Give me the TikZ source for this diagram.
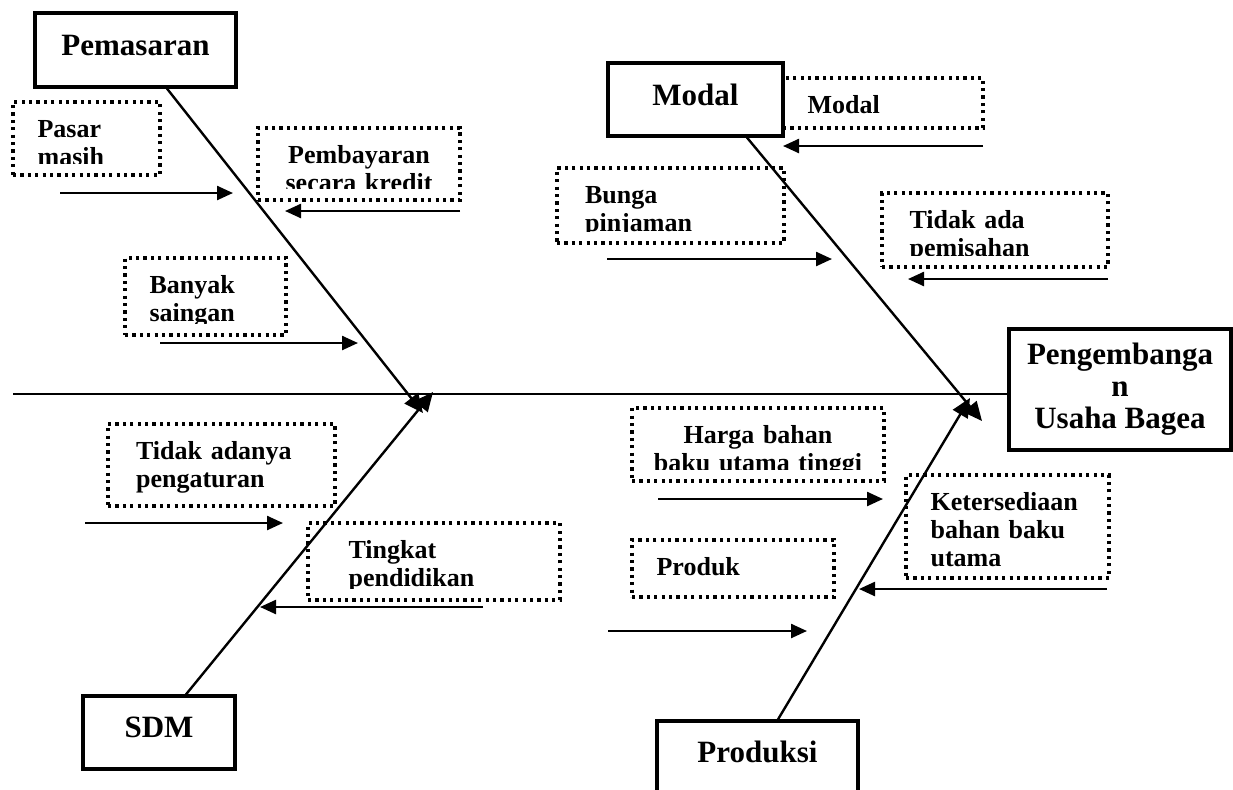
\documentclass[tikz,border=0pt]{standalone}
\usepackage{fontspec}
\setmainfont{Liberation Serif}
\usetikzlibrary{arrows.meta}

\tikzset{
  bone/.style={line width=1.2pt, -{Triangle[length=9.5pt, width=8.5pt]}},
  push/.style={line width=1.2pt, -{Triangle[length=8pt, width=7pt]}},
  category/.style={draw, line width=1.6pt, inner sep=0pt, text depth=5pt,
    font=\bfseries\fontsize{15.5}{16}\selectfont},
  effect/.style={draw, line width=1.6pt, inner sep=0pt, align=center,
    font=\bfseries\fontsize{15.5}{16}\selectfont},
  reason/.style={draw, line width=1.6pt, dash pattern=on 1.6pt off 2.1pt, inner sep=0pt,
    path picture={
      \clip ([yshift=6pt]path picture bounding box.south west) rectangle (path picture bounding box.north east);
      \node[anchor=base west, text width=110pt, align=left, inner sep=0pt,
        font=\bfseries\fontsize{13}{14}\selectfont]
        at ([shift={(11.5pt,-17.5pt)}]path picture bounding box.north west) {#1};}},
  reasonmid/.style={draw, line width=1.6pt, dash pattern=on 1.6pt off 2.1pt, inner sep=0pt,
    path picture={
      \clip ([yshift=6pt]path picture bounding box.south west) rectangle (path picture bounding box.north east);
      \node[anchor=base, text width=120pt, align=center, inner sep=0pt,
        font=\bfseries\fontsize{13}{14}\selectfont]
        at ([yshift=-17.5pt]path picture bounding box.north) {#1};}}
}

\begin{document}
\begin{tikzpicture}[x=0.5pt, y=-0.5pt]
  \useasboundingbox (0,0) rectangle (1233,789);

  % heads of the bones
  \node[category, minimum width=100.5pt, minimum height=37pt] (pemasaran) at (135.5,50) {Pemasaran};
  \node[category, minimum width=87.5pt, minimum height=36.5pt] (modal) at (695.5,99.5) {Modal};
  \node[category, minimum width=76pt, minimum height=36.5pt] (sdm) at (159,732.5) {SDM};
  \node[category, minimum width=100.5pt, minimum height=35.5pt] (produksi) at (757.5,756.5) {Produksi};
  \node[effect, minimum width=111pt, minimum height=60.5pt] (usaha) at (1120,389.5) {Pengembanga\\n\\Usaha Bagea};

  % causes
  \node[reason={Pasar\\masih}, minimum width=73.5pt, minimum height=36.5pt] (pasar) at (86.5,138.5) {};
  \node[reasonmid={Pembayaran\\secara kredit}, minimum width=101pt, minimum height=36pt] (kredit) at (359,164) {};
  \node[reason={Banyak\\saingan}, minimum width=80.5pt, minimum height=38.5pt] (saingan) at (205.5,296.5) {};
  \node[reason={Modal}, minimum width=100pt, minimum height=25pt] (dana) at (883,103) {};
  \node[reason={Bunga\\pinjaman}, minimum width=113.5pt, minimum height=37.5pt] (bunga) at (670.5,205.5) {};
  \node[reason={Tidak ada\\pemisahan}, minimum width=113pt, minimum height=37pt] (pisah) at (995,230) {};
  \node[reason={Tidak adanya\\pengaturan}, minimum width=113.5pt, minimum height=41pt] (atur) at (221.5,465) {};
  \node[reason={Tingkat\\pendidikan}, minimum width=126pt, minimum height=38.5pt] (didik) at (434,561.5) {};
  \node[reasonmid={Harga bahan\\baku utama tinggi}, minimum width=126pt, minimum height=36.5pt] (harga) at (758,444.5) {};
  \node[reason={Ketersediaan\\bahan baku\\utama}, minimum width=101.5pt, minimum height=51.5pt] (sedia) at (1007.5,526.5) {};
  \node[reason={Produk}, minimum width=101pt, minimum height=28.5pt] (produk) at (733,568.5) {};

  % spine
  \coordinate (tail) at (13,394);
  \draw[line width=1.4pt] (tail) -- (tail -| usaha.west);

  % bones
  \coordinate (pemasaran-tip) at (423,413);
  \coordinate (modal-tip) at (982,421);
  \coordinate (sdm-tip) at (433,392);
  \coordinate (produksi-tip) at (970,398);
  \draw[bone] ([xshift=15.75pt]pemasaran.south) -- (pemasaran-tip);
  \draw[bone] ([xshift=25.75pt]modal.south) -- (modal-tip);
  \draw[bone] ([xshift=13.5pt]sdm.north) -- (sdm-tip);
  \draw[bone] ([xshift=10.25pt]produksi.north) -- (produksi-tip);

  % small arrows
  \coordinate (pasar-a) at (60,193);   \coordinate (pasar-b) at (233,193);
  \coordinate (kredit-a) at (460,211); \coordinate (kredit-b) at (285,211);
  \coordinate (saingan-a) at (160,343); \coordinate (saingan-b) at (358,343);
  \coordinate (dana-a) at (983,146);   \coordinate (dana-b) at (783,146);
  \coordinate (bunga-a) at (607,259);  \coordinate (bunga-b) at (832,259);
  \coordinate (pisah-a) at (1108,279); \coordinate (pisah-b) at (908,279);
  \coordinate (atur-a) at (85,523);    \coordinate (atur-b) at (283,523);
  \coordinate (didik-a) at (483,607);  \coordinate (didik-b) at (260,607);
  \coordinate (harga-a) at (658,499);  \coordinate (harga-b) at (883,499);
  \coordinate (sedia-a) at (1107,589); \coordinate (sedia-b) at (859,589);
  \coordinate (produk-a) at (608,631); \coordinate (produk-b) at (807,631);

  \draw[push] (pasar-a) -- (pasar-b);
  \draw[push] (kredit-a) -- (kredit-b);
  \draw[push] (saingan-a) -- (saingan-b);
  \draw[push] (dana-a) -- (dana-b);
  \draw[push] (bunga-a) -- (bunga-b);
  \draw[push] (pisah-a) -- (pisah-b);
  \draw[push] (atur-a) -- (atur-b);
  \draw[push] (didik-a) -- (didik-b);
  \draw[push] (harga-a) -- (harga-b);
  \draw[push] (sedia-a) -- (sedia-b);
  \draw[push] (produk-a) -- (produk-b);
\end{tikzpicture}
\end{document}
